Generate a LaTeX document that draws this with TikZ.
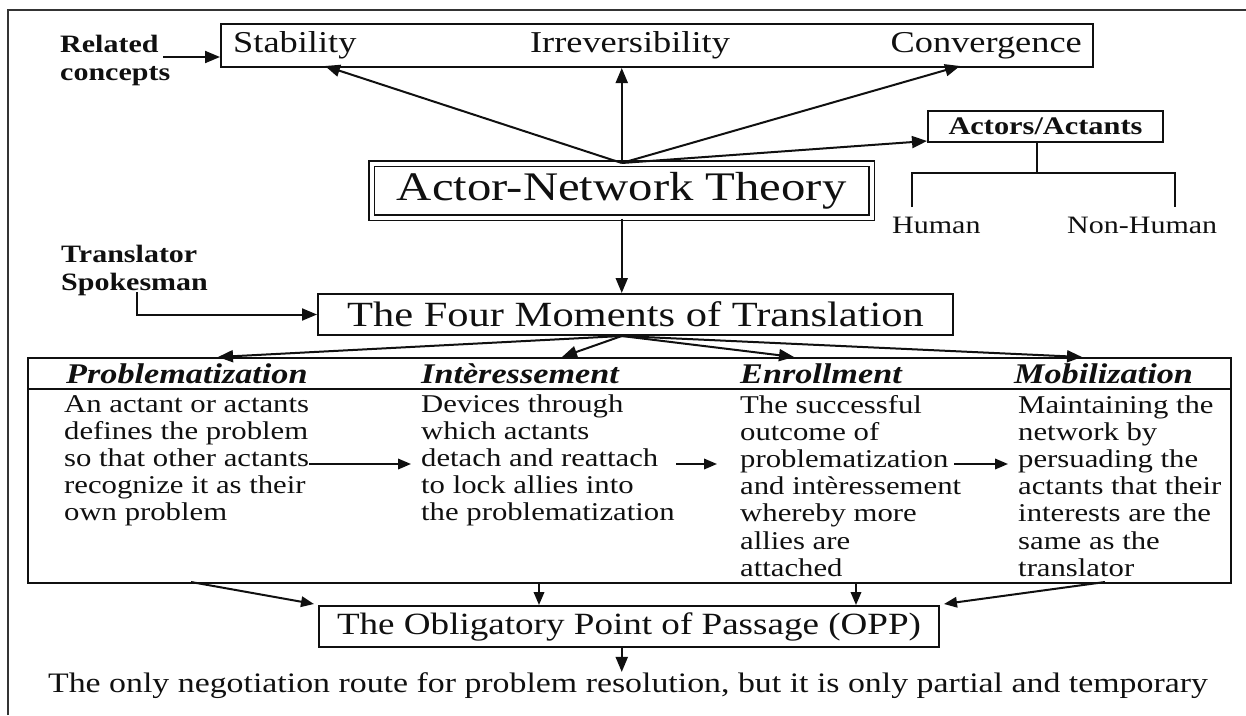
\documentclass[tikz,border=0pt]{standalone}
\usepackage{fontspec}
\setmainfont{Liberation Serif}[FakeStretch=1.2]
\usetikzlibrary{arrows.meta,calc}
\definecolor{ink}{HTML}{101010}
% left-aligned stack of lines whose baseline is the first line's
\newcommand\linesblock[1]{\vtop{\halign{##\hfil\cr#1\crcr}}}
\begin{document}
\begin{tikzpicture}[x=1pt,y=-1pt,
  ln/.style={draw=ink, line width=2pt},
  tln/.style={draw=ink, line width=1.6pt},
  arr/.style={ln, -{Triangle[length=15pt,width=12pt]}},
  sarr/.style={ln, -{Triangle[length=13pt,width=10.5pt]}},
  box/.style={ln, inner sep=0pt, anchor=north west, text=ink},
  lbl/.style={inner sep=0pt, text=ink, font=\fontsize{25}{28}\selectfont\bfseries},
  plain/.style={inner sep=0pt, text=ink, font=\fontsize{25}{28}\selectfont},
  body/.style={inner sep=0pt, anchor=base west, text=ink, font=\fontsize{25.6}{27.2}\selectfont},
  hdr/.style={inner sep=0pt, anchor=base west, text=ink, font=\fontsize{28.5}{30}\selectfont\bfseries\itshape},
  topt/.style={inner sep=0pt, text=ink, font=\fontsize{30.3}{32}\selectfont},
]
\useasboundingbox (0,0) rectangle (1246,715);

% page frame
\draw[draw=ink!85, line width=2.2pt] (8,715) -- (8,10) -- (1246,10);

% related concepts
\node (rc) [box, minimum width=872pt, minimum height=43pt] at (220,23) {};
\node (stab) [topt, anchor=base west] at (233,52) {Stability};
\node (irr) [topt, anchor=base] at (630,52) {Irreversibility};
\node (conv) [topt, anchor=base east] at (1082,52) {Convergence};
\node (rel) [lbl, anchor=base west] at (60,52) {\linesblock{Related\cr concepts}};
\coordinate (relOut) at (163,57);
\draw[arr] (relOut) -- (rc.west |- relOut);

% actor-network theory
\node (ant) [box, line width=1.5pt, double, double distance=3.6pt,
  minimum width=500pt, minimum height=54pt,
  font=\fontsize{40.6}{44}\selectfont] at (371,163) {Actor-Network Theory};
\coordinate (stabIn) at (325,66);
\coordinate (convIn) at (960,66);
\draw[arr] (ant.north) -- (stabIn);
\draw[arr] (ant.north) -- (ant.north |- rc.south);
\draw[arr] (ant.north) -- (convIn);

% actors / actants
\node (act) [box, minimum width=235pt, minimum height=31pt,
  font=\fontsize{25.3}{28}\selectfont\bfseries] at (927,110) {Actors/Actants};
\draw[arr] (ant.north) -- ($(act.south west)+(0,-2)$);
\coordinate (br) at (1037,173);
\coordinate (hL) at (912,207);
\coordinate (hR) at (1175,207);
\draw[tln] (act.south -| br) -- (br);
\draw[tln] (hL) -- (hL |- br) -- (hR |- br) -- (hR);
\node (hum) [plain, anchor=base west] at (892,233) {Human};
\node (nhum) [plain, anchor=base west] at (1067,233) {Non-Human};

% four moments of translation
\node (four) [box, minimum width=635pt, minimum height=41pt,
  font=\fontsize{35.4}{38}\selectfont] at (317,293) {The Four Moments of Translation};
\draw[arr] (ant.south) -- (four.north -| ant.south);
\node (ts) [lbl, anchor=base west] at (61,262) {\linesblock{Translator\cr Spokesman}};
\coordinate (spk) at (137,292);
\draw[arr] (spk) |- (four.west);

% the four moments table
\node (tab) [box, minimum width=1203pt, minimum height=225pt] at (27,357) {};
\draw[ln] (tab.west |- 0,389) -- (tab.east |- 0,389);
\coordinate (fmOut) at (four.south -| ant.south);
\coordinate (m1) at (218,357);
\coordinate (m2) at (562,357);
\coordinate (m3) at (794,357);
\coordinate (m4) at (1082,357);
\foreach \m in {m1,m2,m3,m4} \draw[arr] (fmOut) -- (\m);

\node (h1) [hdr] at (66,383) {Problematization};
\node (h2) [hdr] at (421,383) {Intèressement};
\node (h3) [hdr] at (740,383) {Enrollment};
\node (h4) [hdr] at (1014,383) {Mobilization};

\node (b1) [body] at (64,412) {\linesblock{An actant or actants\cr defines the problem\cr so that other actants\cr recognize it as their\cr own problem}};
\node (b2) [body] at (421,412) {\linesblock{Devices through\cr which actants\cr detach and reattach\cr to lock allies into\cr the problematization}};
\node (b3) [body] at (740,413) {\linesblock{The successful\cr outcome of\cr problematization\cr and intèressement\cr whereby more\cr allies are\cr attached}};
\node (b4) [body] at (1018,413) {\linesblock{Maintaining the\cr network by\cr persuading the\cr actants that their\cr interests are the\cr same as the\cr translator}};

\coordinate (s1) at (309,464); \coordinate (e1) at (411,464);
\coordinate (s2) at (676,464); \coordinate (e2) at (717,464);
\coordinate (s3) at (954,464); \coordinate (e3) at (1008,464);
\draw[sarr] (s1) -- (e1);
\draw[sarr] (s2) -- (e2);
\draw[sarr] (s3) -- (e3);

% obligatory point of passage
\node (opp) [box, minimum width=620pt, minimum height=41pt,
  font=\fontsize{30.9}{33}\selectfont] at (318,605) {The Obligatory Point of Passage (OPP)};
\coordinate (o1) at (191,582); \coordinate (i1) at (314,604);
\coordinate (o2) at (539,582);
\coordinate (o3) at (856,582);
\coordinate (o4) at (1105,582); \coordinate (i4) at (944,604);
\draw[sarr] (o1) -- (i1);
\draw[sarr] (o2) -- (o2 |- opp.north);
\draw[sarr] (o3) -- (o3 |- opp.north);
\draw[sarr] (o4) -- (i4);

\node (res) [inner sep=0pt, anchor=base, text=ink, font=\fontsize{28.2}{30}\selectfont] at (628,692)
  {The only negotiation route for problem resolution, but it is only partial and temporary};
\draw[arr] (opp.south -| ant.south) -- (res.north -| ant.south);
\end{tikzpicture}
\end{document}
